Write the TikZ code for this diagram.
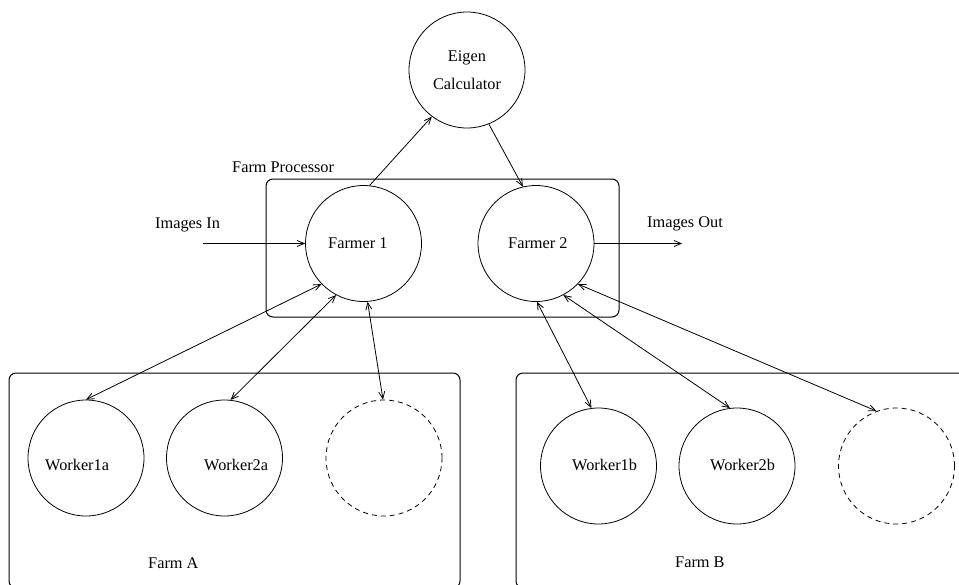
\documentclass[tikz,border=0pt]{standalone}
\usepackage{fontspec}
\setmainfont{Liberation Serif}
\usetikzlibrary{arrows.meta}

\tikzset{
  proc/.style={circle, draw, line width=0.8pt, minimum size=116pt, inner sep=0pt},
  spare/.style={proc, dash pattern=on 5pt off 4pt},
  farmbox/.style={draw, line width=1pt, rounded corners=7pt},
  txt/.style={anchor=base west, inner sep=0pt, font=\fontsize{16.3}{28}\selectfont},
  link/.style={line width=0.8pt, -{Straight Barb[length=7pt,width=6pt]}},
  dlink/.style={line width=0.8pt, {Straight Barb[length=7pt,width=6pt]}-{Straight Barb[length=7pt,width=6pt]}},
}

\begin{document}
\begin{tikzpicture}[x=1pt,y=-1pt]
\useasboundingbox (0,0) rectangle (959,584);

\draw[farmbox] (266,179) rectangle (619,317);
\draw[farmbox] (9,373) rectangle (460,588);
\draw[farmbox] (516,373) rectangle (990,588);

\node[txt] (proclabel) at (232,172) {Farm Processor};
\node[txt] (farmalabel) at (148,568) {Farm A};
\node[txt] (farmblabel) at (675,567) {Farm B};

\node[proc, align=center, font=\fontsize{16.3}{28}\selectfont] (eigen) at (467,70) {Eigen\\Calculator};
\node[proc] (f1) at (363.5,243.5) {};
\node[proc] (f2) at (536,243.5) {};
\node[txt] (f1label) at (328,248) {Farmer 1};
\node[txt] (f2label) at (508,248) {Farmer 2};

\foreach \n/\x/\y in {w1a/86/458, w2a/224.5/458, w1b/598.5/466, w2b/737/466}
{
  \node[proc] (\n) at (\x,\y) {};
}
\node[spare] (xa) at (384,458) {};
\node[spare] (xb) at (896.5,466) {};

\node[txt] (w1alabel) at (45,470) {Worker1a};
\node[txt] (w2alabel) at (204,470) {Worker2a};
\node[txt] (w1blabel) at (572,470) {Worker1b};
\node[txt] (w2blabel) at (710,470) {Worker2b};

\node[txt] (inlabel) at (155,228) {Images In};
\node[txt] (outlabel) at (647,227) {Images Out};
\coordinate (in) at (203,243.5);
\coordinate (out) at (682,243.5);

\draw[link] (in) -- (f1);
\draw[link] (f2) -- (out);
\draw[link] (f1.84) -- (eigen.233);
\draw[link] (eigen.292) -- (f2.103);

\draw[dlink] (f1.224) -- (w1a.90);
\draw[dlink] (f1.242) -- (w2a.84);
\draw[dlink] (f1.274) -- (xa.91);
\draw[dlink] (f2.271) -- (w1b.97);
\draw[dlink] (f2.298) -- (w2b.97);
\draw[dlink] (f2.316) -- (xb.110);
\end{tikzpicture}
\end{document}
